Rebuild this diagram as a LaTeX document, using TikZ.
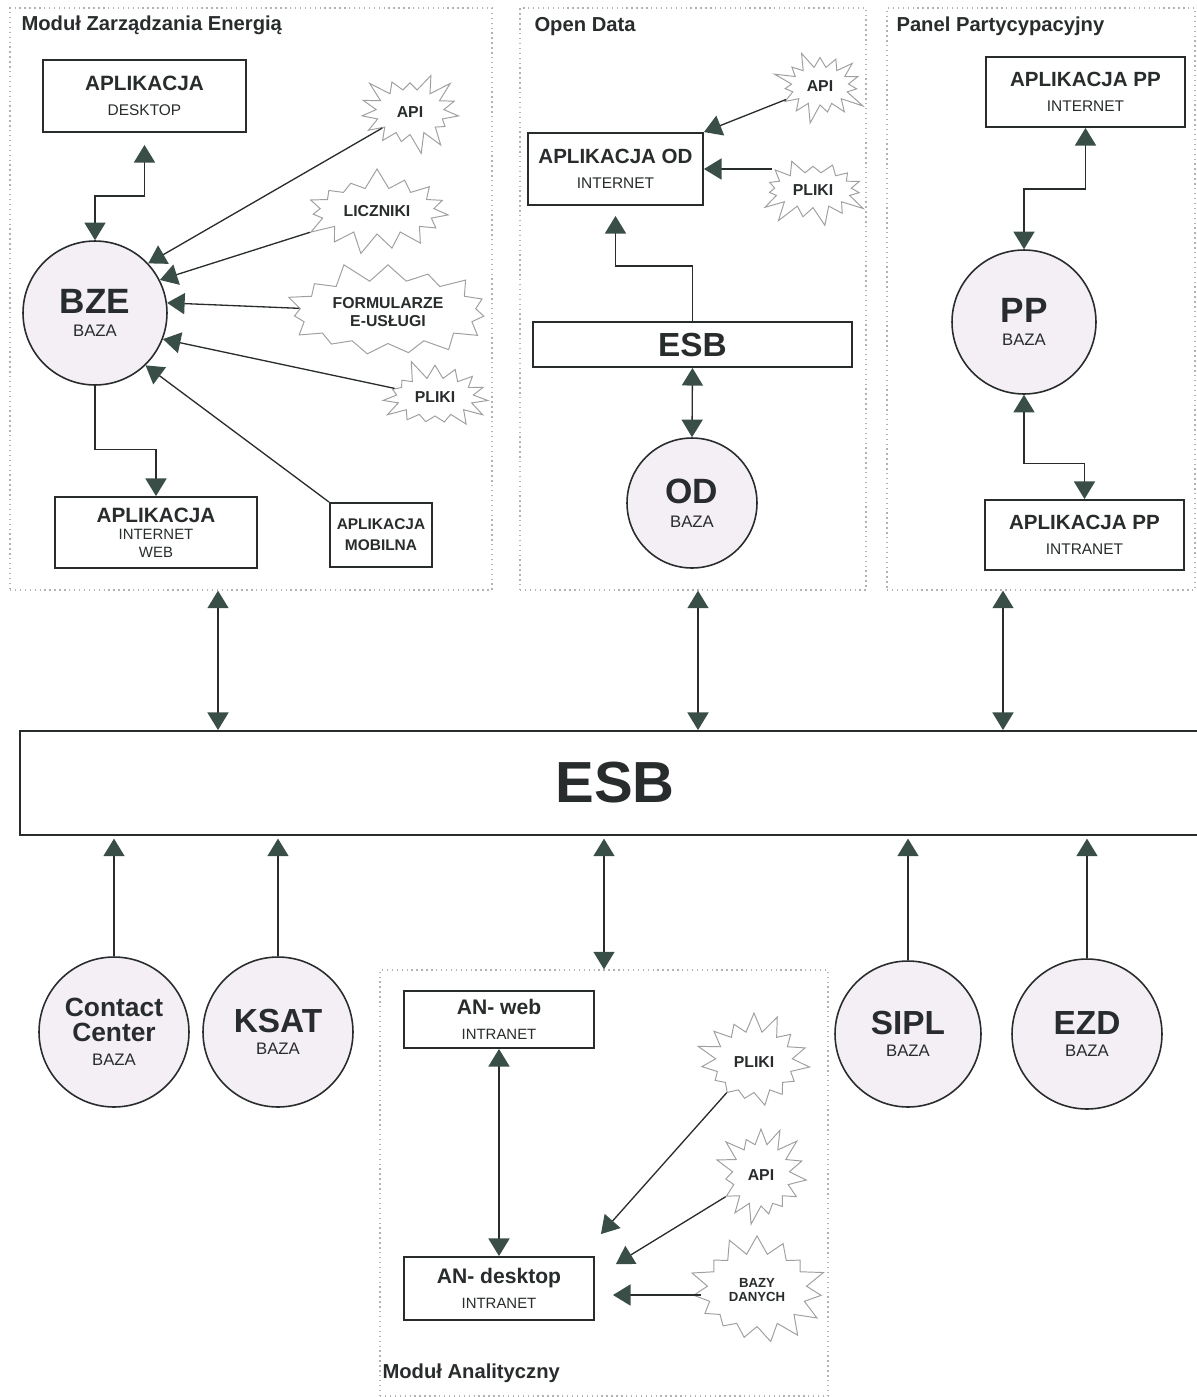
\documentclass[tikz,border=0pt]{standalone}
\usepackage{fontspec}
\setmainfont{Liberation Sans}
\usepackage{tikz}
\usetikzlibrary{arrows.meta,shapes.symbols}

\definecolor{arrowc}{RGB}{58,78,72}
\definecolor{linec}{RGB}{40,44,44}
\definecolor{bazac}{RGB}{244,239,245}

\begin{document}
\begin{tikzpicture}
        [x=0.02cm,y=-0.02cm,>={Triangle[width=12pt,length=10pt,color=arrowc]},
        line width=0.75pt,draw=linec,text=linec,
        base node/.style={circle,draw=linec,line width=0.9pt,fill=bazac,align=center,inner sep=0pt},
        box node/.style={rectangle,draw=linec,line width=1.1pt,fill=white,align=center,inner sep=0pt},
        burst node/.style={starburst,starburst points=15,starburst point height=0.42cm,draw=gray!75,line width=0.55pt,fill=white,align=center,inner sep=4pt,font=\fontsize{9}{10}\selectfont\bfseries},
        panel node/.style={rectangle,draw=gray!60,dotted,line width=0.8pt,inner sep=0pt},
        title node/.style={anchor=west,font=\fontsize{11.5}{13}\selectfont\bfseries}]
    
    \useasboundingbox (0,0) rectangle (1197,1397);
    
    \node[panel node,minimum width=9.64cm,minimum height=11.64cm] (pmze) at (251,299) {};
    \node[panel node,minimum width=6.92cm,minimum height=11.64cm] (pod) at (693,299) {};
    \node[panel node,minimum width=6.16cm,minimum height=11.64cm] (ppp) at (1041,299) {};
    \node[panel node,minimum width=8.96cm,minimum height=8.52cm] (pan) at (604,1183) {};
    
    \node[title node] (tmze) at (15,25) {Moduł Zarządzania Energią};
    \node[title node] (tod) at (528,27) {Open Data};
    \node[title node] (tpp) at (890,26) {Panel Partycypacyjny};
    \node[title node] (tan) at (376,1373) {Moduł Analityczny};
    
    % Modul Zarzadzania Energia
    \node[box node,minimum width=4.06cm,minimum height=1.44cm,font=\fontsize{8.8}{14}\selectfont] (desk) at (144.5,96) {{\fontsize{11.8}{14}\selectfont\bfseries APLIKACJA}\\DESKTOP};
    \node[base node,minimum size=2.88cm,font=\fontsize{9.5}{13.5}\selectfont] (bze) at (95,313) {{\fontsize{20}{13.5}\selectfont\bfseries BZE}\\BAZA};
    \node[box node,minimum width=4.04cm,minimum height=1.42cm,font=\fontsize{8.5}{10}\selectfont] (web) at (156,532.5) {{\fontsize{11.8}{10}\selectfont\bfseries APLIKACJA}\\INTERNET\\WEB};
    \node[box node,minimum width=2.04cm,minimum height=1.28cm,font=\fontsize{8.8}{12}\selectfont\bfseries] (mob) at (381,535) {APLIKACJA\\MOBILNA};
    \node[burst node,random starburst=3,minimum width=2.2cm,minimum height=1.74cm] (api1) at (410,112) {API};
    \node[burst node,random starburst=7,minimum width=2.2cm,minimum height=1.76cm] (licz) at (377,211) {LICZNIKI};
    \node[burst node,random starburst=11,minimum width=2.3cm,minimum height=2.1cm] (form) at (388,312) {FORMULARZE\\E-USŁUGI};
    \node[burst node,random starburst=5,minimum width=2.2cm,minimum height=1.6cm] (pliki1) at (435,397) {PLIKI};
    
    % Open Data
    \node[box node,minimum width=3.5cm,minimum height=1.44cm,font=\fontsize{8.8}{14.5}\selectfont] (aod) at (615.5,169) {{\fontsize{11.7}{14.5}\selectfont\bfseries APLIKACJA OD}\\INTERNET};
    \node[burst node,random starburst=9,minimum width=1.9cm,minimum height=1.6cm] (apiod) at (820,86) {API};
    \node[burst node,random starburst=13,minimum width=1.86cm,minimum height=1.46cm] (plikiod) at (813,190) {PLIKI};
    \node[box node,minimum width=6.38cm,minimum height=0.9cm,font=\fontsize{19}{22}\selectfont\bfseries] (esbod) at (692.5,344.5) {ESB};
    \node[base node,minimum size=2.6cm,font=\fontsize{9.5}{13.5}\selectfont] (od) at (692,503) {{\fontsize{20}{13.5}\selectfont\bfseries OD}\\BAZA};
    
    % Panel Partycypacyjny
    \node[box node,minimum width=3.98cm,minimum height=1.4cm,font=\fontsize{8.8}{14.5}\selectfont] (apin) at (1085.5,92) {{\fontsize{11.7}{14.5}\selectfont\bfseries APLIKACJA PP}\\INTERNET};
    \node[base node,minimum size=2.88cm,font=\fontsize{9.5}{13.5}\selectfont] (pp) at (1024,322) {{\fontsize{20}{13.5}\selectfont\bfseries PP}\\BAZA};
    \node[box node,minimum width=3.98cm,minimum height=1.4cm,font=\fontsize{8.8}{14.5}\selectfont] (apintra) at (1084.5,535) {{\fontsize{11.7}{14.5}\selectfont\bfseries APLIKACJA PP}\\INTRANET};
    
    % ESB
    \node[box node,minimum width=23.8cm,minimum height=2.08cm,font=\fontsize{33}{40}\selectfont\bfseries] (esb) at (615,783) {ESB};
    
    \node[base node,minimum size=3cm,font=\fontsize{9.5}{14}\selectfont] (cc) at (114,1032) {{\fontsize{15}{14}\selectfont\bfseries Contact}\\{\fontsize{15}{14}\selectfont\bfseries Center}\\BAZA};
    \node[base node,minimum size=3cm,font=\fontsize{9.5}{12.5}\selectfont] (ksat) at (278,1032) {{\fontsize{19}{12.5}\selectfont\bfseries KSAT}\\BAZA};
    \node[base node,minimum size=2.92cm,font=\fontsize{9.5}{12.5}\selectfont] (sipl) at (908,1034) {{\fontsize{19}{12.5}\selectfont\bfseries SIPL}\\BAZA};
    \node[base node,minimum size=3cm,font=\fontsize{9.5}{12.5}\selectfont] (ezd) at (1087,1034) {{\fontsize{19}{12.5}\selectfont\bfseries EZD}\\BAZA};
    
    % Modul Analityczny
    \node[box node,minimum width=3.8cm,minimum height=1.14cm,font=\fontsize{8.5}{14.5}\selectfont] (anweb) at (499,1019.5) {{\fontsize{12}{14.5}\selectfont\bfseries AN- web}\\INTRANET};
    \node[box node,minimum width=3.8cm,minimum height=1.26cm,font=\fontsize{8.5}{14.5}\selectfont] (andesk) at (499,1288.5) {{\fontsize{12}{14.5}\selectfont\bfseries AN- desktop}\\INTRANET};
    \node[burst node,random starburst=17,minimum width=1.84cm,minimum height=2.06cm] (plikian) at (754,1062) {PLIKI};
    \node[burst node,random starburst=21,minimum width=1.84cm,minimum height=2.08cm] (apian) at (761,1175) {API};
    \node[burst node,random starburst=4,minimum width=2cm,minimum height=2.3cm,font=\fontsize{7.5}{8.5}\selectfont\bfseries] (bazy) at (757,1290) {BAZY\\DANYCH};
    
    % connectors
    \draw[<->,shorten <=0.24cm] (desk.south) -- ++(0,63) -| (bze.north);
    \draw[->] (bze.south) -- ++(0,64) -| (web.north);
    \draw[->] (api1) -- (bze.43);
    \draw[->] (licz) -- (bze.27);
    \draw[->] (form) -- (bze.8);
    \draw[->] (pliki1) -- (bze.339);
    \draw[->] (mob.north west) -- (bze.314);
    
    \draw[->] (apiod) -- (aod.north east);
    \draw[->] (aod.east -| plikiod.west) -- (aod.east);
    \draw[->,shorten >=0.2cm] (esbod.north) -- ++(0,-55) -| (aod.south);
    \draw[<->] (esbod.south) -- (od.north);
    
    \draw[<->] (apin.south) -- ++(0,61) -| (pp.north);
    \draw[<->] (pp.south) -- ++(0,69) -| (apintra.north);
    
    \coordinate (t1) at ([xshift=-0.66cm]pmze.south);
    \coordinate (t2) at ([xshift=0.1cm]pod.south);
    \coordinate (t3) at ([xshift=-0.76cm]ppp.south);
    \foreach \c in {t1,t2,t3}
        \draw[<->] (\c) -- (\c |- esb.north);
    \foreach \c in {cc,ksat,sipl,ezd}
        \draw[->,shorten >=1.5pt] (\c.north) -- (\c.north |- esb.south);
    \draw[<->,shorten >=1.5pt] (pan.north) -- (pan.north |- esb.south);
    
    \coordinate (a1) at ([shift={(0.12cm,0.44cm)}]andesk.north east);
    \coordinate (a2) at ([shift={(0.42cm,-0.16cm)}]andesk.north east);
    \coordinate (a3) at ([shift={(0.36cm,-0.13cm)}]andesk.east);
    \draw[<->] (anweb) -- (andesk);
    \draw[->] (plikian) -- (a1);
    \draw[->] (apian) -- (a2);
    \draw[->] (a3 -| bazy.west) -- (a3);
    
\end{tikzpicture}
\end{document}
